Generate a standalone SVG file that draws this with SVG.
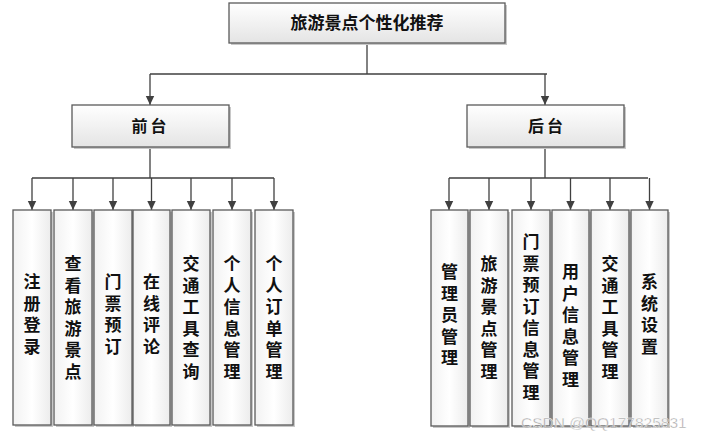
<svg xmlns="http://www.w3.org/2000/svg" width="710" height="440" viewBox="0 0 710 440">
<defs>
<linearGradient id="g" x1="0" y1="0" x2="0" y2="1">
<stop offset="0" stop-color="#ffffff"/>
<stop offset="1" stop-color="#e4e4e4"/>
</linearGradient>
<linearGradient id="gl" x1="0" y1="0" x2="1" y2="0">
<stop offset="0" stop-color="#f2f2f2"/>
<stop offset="0.5" stop-color="#ffffff"/>
<stop offset="1" stop-color="#ececec"/>
</linearGradient>
<marker id="arr" markerWidth="10" markerHeight="10" refX="9" refY="5" orient="auto" markerUnits="userSpaceOnUse">
<path d="M0,0.8 L9,5 L0,9.2 Z" fill="#404040"/>
</marker>
</defs>
<style>
.sh{fill:#c8c8c8}
.box{fill:url(#g);stroke:#5a5a5a;stroke-width:1.3}
.leaf{fill:url(#gl);stroke:#5a5a5a;stroke-width:1.3}
.ln{fill:none;stroke:#404040;stroke-width:1.3}
.t{font-family:"Noto Sans CJK SC","Noto Sans CJK TC",sans-serif;font-weight:bold;fill:#111;text-anchor:middle}
.v{font-family:"Liberation Sans","Noto Sans CJK SC","Noto Sans CJK TC",sans-serif;font-weight:bold;fill:#111;text-anchor:middle;font-size:17px}
</style>
<rect width="710" height="440" fill="#ffffff"/>

<g id="connectors">
<path class="ln" d="M367,43 V74 M150,74 H547"/>
<path class="ln" d="M150,74 V105" marker-end="url(#arr)"/>
<path class="ln" d="M545,74 V105" marker-end="url(#arr)"/>
<path class="ln" d="M150,147 V178 M32,178 H274"/>
<path class="ln" d="M32,178 V210" marker-end="url(#arr)"/>
<path class="ln" d="M73,178 V210" marker-end="url(#arr)"/>
<path class="ln" d="M113,178 V210" marker-end="url(#arr)"/>
<path class="ln" d="M151.5,178 V210" marker-end="url(#arr)"/>
<path class="ln" d="M191,178 V210" marker-end="url(#arr)"/>
<path class="ln" d="M232,178 V210" marker-end="url(#arr)"/>
<path class="ln" d="M274,178 V210" marker-end="url(#arr)"/>
<path class="ln" d="M545,147 V178 M449,178 H648"/>
<path class="ln" d="M449,178 V210" marker-end="url(#arr)"/>
<path class="ln" d="M489,178 V210" marker-end="url(#arr)"/>
<path class="ln" d="M531,178 V210" marker-end="url(#arr)"/>
<path class="ln" d="M570.5,178 V210" marker-end="url(#arr)"/>
<path class="ln" d="M610,178 V210" marker-end="url(#arr)"/>
<path class="ln" d="M649.5,178 V210" marker-end="url(#arr)"/>
</g>

<g id="root">
<rect class="sh" x="231" y="5" width="276" height="40"/>
<rect class="box" x="229" y="3" width="276" height="40"/>
<text class="t" x="367" y="29" font-size="17">旅游景点个性化推荐</text>
</g>

<g id="front">
<rect class="sh" x="74" y="107" width="157" height="42"/>
<rect class="box" x="72" y="105" width="157" height="42"/>
<text class="t" x="150.5" y="132" font-size="16" letter-spacing="3">前台</text>
</g>

<g id="back">
<rect class="sh" x="469" y="107" width="157" height="42"/>
<rect class="box" x="467" y="105" width="157" height="42"/>
<text class="t" x="547" y="132" font-size="16" letter-spacing="3">后台</text>
</g>

<g id="f1">
<rect class="sh" x="15" y="212" width="38" height="215"/>
<rect class="leaf" x="13" y="210" width="38" height="215"/>
<text class="v" x="32"><tspan x="32" y="288">注</tspan><tspan x="32" dy="21.5">册</tspan><tspan x="32" dy="21.5">登</tspan><tspan x="32" dy="21.5">录</tspan></text>
</g>
<g id="f2">
<rect class="sh" x="56" y="212" width="38" height="215"/>
<rect class="leaf" x="54" y="210" width="38" height="215"/>
<text class="v"><tspan x="73" y="270">查</tspan><tspan x="73" dy="21.5">看</tspan><tspan x="73" dy="21.5">旅</tspan><tspan x="73" dy="21.5">游</tspan><tspan x="73" dy="21.5">景</tspan><tspan x="73" dy="21.5">点</tspan></text>
</g>
<g id="f3">
<rect class="sh" x="96" y="212" width="38" height="215"/>
<rect class="leaf" x="94" y="210" width="38" height="215"/>
<text class="v"><tspan x="113" y="288">门</tspan><tspan x="113" dy="21.5">票</tspan><tspan x="113" dy="21.5">预</tspan><tspan x="113" dy="21.5">订</tspan></text>
</g>
<g id="f4">
<rect class="sh" x="135" y="212" width="37" height="215"/>
<rect class="leaf" x="133" y="210" width="37" height="215"/>
<text class="v"><tspan x="151.5" y="288">在</tspan><tspan x="151.5" dy="21.5">线</tspan><tspan x="151.5" dy="21.5">评</tspan><tspan x="151.5" dy="21.5">论</tspan></text>
</g>
<g id="f5">
<rect class="sh" x="174" y="212" width="38" height="215"/>
<rect class="leaf" x="172" y="210" width="38" height="215"/>
<text class="v"><tspan x="191" y="270">交</tspan><tspan x="191" dy="21.5">通</tspan><tspan x="191" dy="21.5">工</tspan><tspan x="191" dy="21.5">具</tspan><tspan x="191" dy="21.5">查</tspan><tspan x="191" dy="21.5">询</tspan></text>
</g>
<g id="f6">
<rect class="sh" x="215" y="212" width="38" height="215"/>
<rect class="leaf" x="213" y="210" width="38" height="215"/>
<text class="v"><tspan x="232" y="270">个</tspan><tspan x="232" dy="21.5">人</tspan><tspan x="232" dy="21.5">信</tspan><tspan x="232" dy="21.5">息</tspan><tspan x="232" dy="21.5">管</tspan><tspan x="232" dy="21.5">理</tspan></text>
</g>
<g id="f7">
<rect class="sh" x="257" y="212" width="38" height="215"/>
<rect class="leaf" x="255" y="210" width="38" height="215"/>
<text class="v"><tspan x="274" y="270">个</tspan><tspan x="274" dy="21.5">人</tspan><tspan x="274" dy="21.5">订</tspan><tspan x="274" dy="21.5">单</tspan><tspan x="274" dy="21.5">管</tspan><tspan x="274" dy="21.5">理</tspan></text>
</g>

<g id="b1">
<rect class="sh" x="433" y="212" width="37" height="216"/>
<rect class="leaf" x="431" y="210" width="37" height="216"/>
<text class="v"><tspan x="449.5" y="278">管</tspan><tspan x="449.5" dy="21.5">理</tspan><tspan x="449.5" dy="21.5">员</tspan><tspan x="449.5" dy="21.5">管</tspan><tspan x="449.5" dy="21.5">理</tspan></text>
</g>
<g id="b2">
<rect class="sh" x="472" y="212" width="38" height="216"/>
<rect class="leaf" x="470" y="210" width="38" height="216"/>
<text class="v"><tspan x="489" y="270">旅</tspan><tspan x="489" dy="21.5">游</tspan><tspan x="489" dy="21.5">景</tspan><tspan x="489" dy="21.5">点</tspan><tspan x="489" dy="21.5">管</tspan><tspan x="489" dy="21.5">理</tspan></text>
</g>
<g id="b3">
<rect class="sh" x="514" y="212" width="38" height="216"/>
<rect class="leaf" x="512" y="210" width="38" height="216"/>
<text class="v"><tspan x="531" y="248">门</tspan><tspan x="531" dy="21.5">票</tspan><tspan x="531" dy="21.5">预</tspan><tspan x="531" dy="21.5">订</tspan><tspan x="531" dy="21.5">信</tspan><tspan x="531" dy="21.5">息</tspan><tspan x="531" dy="21.5">管</tspan><tspan x="531" dy="21.5">理</tspan></text>
</g>
<g id="b4">
<rect class="sh" x="554" y="212" width="37" height="216"/>
<rect class="leaf" x="552" y="210" width="37" height="216"/>
<text class="v"><tspan x="570.5" y="278">用</tspan><tspan x="570.5" dy="21.5">户</tspan><tspan x="570.5" dy="21.5">信</tspan><tspan x="570.5" dy="21.5">息</tspan><tspan x="570.5" dy="21.5">管</tspan><tspan x="570.5" dy="21.5">理</tspan></text>
</g>
<g id="b5">
<rect class="sh" x="593" y="212" width="38" height="216"/>
<rect class="leaf" x="591" y="210" width="38" height="216"/>
<text class="v"><tspan x="610" y="270">交</tspan><tspan x="610" dy="21.5">通</tspan><tspan x="610" dy="21.5">工</tspan><tspan x="610" dy="21.5">具</tspan><tspan x="610" dy="21.5">管</tspan><tspan x="610" dy="21.5">理</tspan></text>
</g>
<g id="b6">
<rect class="sh" x="633" y="212" width="37" height="216"/>
<rect class="leaf" x="631" y="210" width="37" height="216"/>
<text class="v"><tspan x="649.5" y="288">系</tspan><tspan x="649.5" dy="21.5">统</tspan><tspan x="649.5" dy="21.5">设</tspan><tspan x="649.5" dy="21.5">置</tspan></text>
</g>

<text x="521" y="428" font-family="Liberation Sans, Arial, sans-serif" font-size="15.5" fill="#9a9a9a" stroke="#ffffff" stroke-width="0.4" fill-opacity="0.9">CSDN @QQ177825831</text>
</svg>
